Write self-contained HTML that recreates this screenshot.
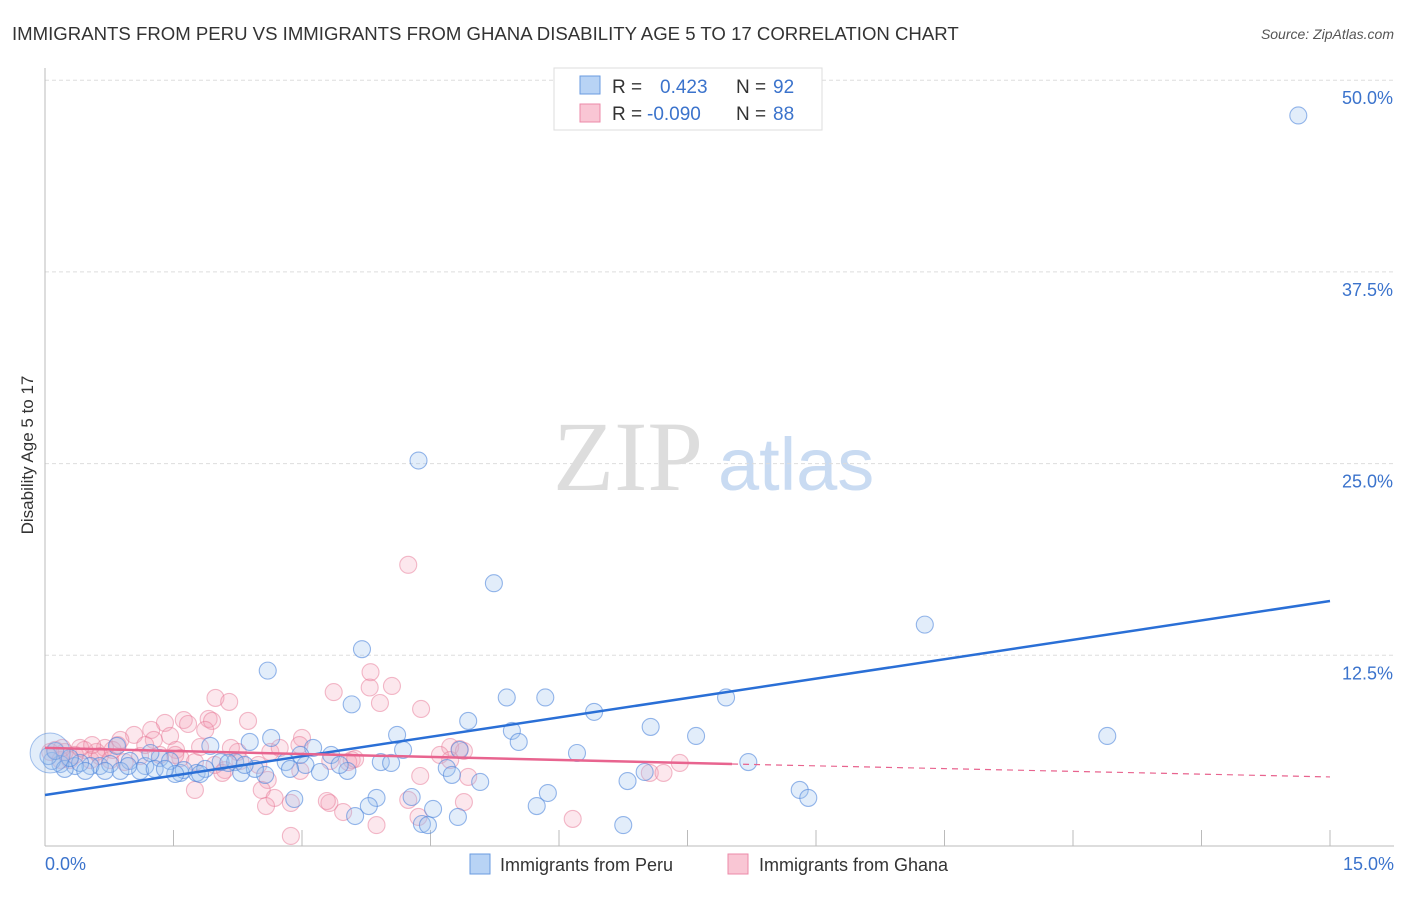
<!DOCTYPE html>
<html><head><meta charset="utf-8"><style>
body{margin:0;background:#fff;font-family:"Liberation Sans",sans-serif}
</style></head><body>
<svg id="chart" width="1406" height="892" font-family="Liberation Sans, sans-serif">
<text x="12" y="40" font-size="18.6" fill="#333">IMMIGRANTS FROM PERU VS IMMIGRANTS FROM GHANA DISABILITY AGE 5 TO 17 CORRELATION CHART</text>
<text x="1394" y="39" font-size="14" fill="#555" font-style="italic" text-anchor="end">Source: ZipAtlas.com</text>
<text x="553" y="490" font-size="100" fill="#ddd" style="font-family:'Liberation Serif',serif">ZIP</text>
<text x="718" y="490" font-size="74" fill="#c9dbf2">atlas</text>
<text transform="translate(33,455) rotate(-90)" font-size="17" fill="#333" text-anchor="middle">Disability Age 5 to 17</text>
<g id="grid"></g><g id="pts"></g><g id="lines"></g>
<g>
<rect x="554" y="68" width="268" height="62" fill="#fff" stroke="#ddd"/>
<rect x="580" y="76" width="20" height="18" fill="#b8d3f5" stroke="#6a9be0"/>
<rect x="580" y="104" width="20" height="18" fill="#f9c6d4" stroke="#ec8aa8"/>
<text x="612" y="93" font-size="19" fill="#333">R = <tspan x="660" fill="#3b73cc">0.423</tspan><tspan x="736" fill="#333">N = </tspan><tspan x="773" fill="#3b73cc">92</tspan></text>
<text x="612" y="120" font-size="19" fill="#333">R = <tspan x="647" fill="#3b73cc">-0.090</tspan><tspan x="736" fill="#333">N = </tspan><tspan x="773" fill="#3b73cc">88</tspan></text>
</g>
<g>
<rect x="470" y="854" width="20" height="20" fill="#b8d3f5" stroke="#6a9be0"/>
<text x="500" y="871" font-size="18" fill="#333">Immigrants from Peru</text>
<rect x="728" y="854" width="20" height="20" fill="#f9c6d4" stroke="#ec8aa8"/>
<text x="759" y="871" font-size="18" fill="#333">Immigrants from Ghana</text>
</g>
</svg>
<script>
const yTicks=[12.5,25,37.5,50];
const yTickLabels=["12.5%","25.0%","37.5%","50.0%"];
const xTickCount=10;
const peruX=[14.63,4.36,5.24,10.27,3.70,2.60,5.39,5.84,7.95,3.58,6.41,4.94,7.07,5.45,12.40,7.60,4.11,5.53,2.39,2.64,4.18,4.84,6.21,3.34,8.21,3.13,1.93,3.92,4.04,4.69,2.81,3.04,2.05,2.22,1.58,1.77,1.62,2.29,3.21,3.53,2.57,2.14,4.75,5.08,6.80,7.00,8.81,8.91,2.91,3.87,4.28,3.78,5.87,5.74,4.53,4.82,3.62,4.40,4.47,6.75,0.84,0.99,1.17,1.34,1.46,0.64,0.76,0.53,0.35,0.18,0.08,0.04,0.23,0.41,1.11,1.23,0.88,1.87,2.45,2.86,1.81,2.33,3.44,1.52,0.12,0.29,0.47,0.70,0.97,1.28,1.40,2.98];
const peruY=[47.7,25.2,17.2,14.5,12.9,11.5,9.75,9.75,9.75,9.3,8.81,8.22,7.83,7.57,7.24,7.24,7.31,6.85,6.85,7.11,6.33,6.33,6.13,6.0,5.54,6.46,6.59,5.54,5.48,5.15,5.54,5.35,5.54,5.54,4.83,4.83,5.02,4.83,4.89,4.96,4.7,5.48,4.7,4.24,4.3,4.89,3.72,3.2,3.13,3.2,3.26,2.67,3.52,2.67,2.48,1.96,2.02,1.5,1.43,1.43,6.59,5.61,5.28,5.8,5.61,5.28,5.41,5.28,5.28,5.41,5.61,5.93,5.09,5.48,4.96,6.13,4.96,5.09,5.09,5.09,4.76,5.35,5.35,4.76,6.26,5.8,4.96,4.96,5.28,5.09,5.09,6.0];
const ghanaX=[4.24,3.80,4.05,3.37,3.79,3.91,4.39,1.99,2.15,2.37,1.62,1.91,1.40,1.95,1.24,1.46,1.04,1.87,1.67,2.63,3.00,2.74,2.97,3.58,3.54,4.73,4.89,2.25,2.17,1.53,1.27,0.85,0.70,0.60,0.46,0.35,0.23,0.12,0.06,0.18,0.29,0.53,0.64,0.76,0.93,1.11,1.34,1.58,1.75,1.98,2.10,2.49,2.60,2.07,1.75,2.53,2.68,2.58,2.87,3.32,3.29,4.24,4.36,3.48,3.87,2.87,4.89,4.94,4.38,7.06,7.22,7.41,6.16,4.61,4.73,0.79,1.17,0.41,1.81,2.28,2.98,3.33,3.62,4.84,0.88,0.20,0.55,1.52];
const ghanaY=[18.4,11.4,10.5,10.1,10.4,9.39,9.0,9.72,9.46,8.22,8.28,8.35,8.09,8.22,7.63,7.24,7.31,7.63,8.02,6.2,7.11,6.46,6.65,5.67,5.54,6.52,6.26,6.2,6.46,6.33,6.98,6.65,6.46,6.2,6.33,6.0,6.2,6.33,6.2,5.67,5.67,5.67,5.93,5.67,5.54,5.93,6.0,5.8,5.54,5.35,5.02,5.35,4.37,4.83,3.72,3.72,3.2,2.67,2.87,2.87,3.0,3.07,1.96,2.28,1.43,0.72,2.93,4.57,4.63,4.83,4.83,5.48,1.83,6.0,5.67,6.33,6.65,6.46,6.52,5.61,4.96,5.61,5.74,6.39,6.98,6.46,6.65,6.0];
const X0=45,X1=1330,Y0=847,PX_PER=191.7/12.5;
const sx=v=>X0+(v/15)*(X1-X0);
const sy=v=>Y0-v*PX_PER;
const NS="http://www.w3.org/2000/svg";
function mk(tag,attrs,parent){const e=document.createElementNS(NS,tag);for(const k in attrs)e.setAttribute(k,attrs[k]);parent.appendChild(e);return e;}
const grid=document.getElementById('grid');
yTicks.forEach((t,i)=>{
 const l=mk('line',{x1:45,x2:1394,y1:sy(t),y2:sy(t),stroke:'#ddd','stroke-dasharray':'4,3'},grid);
 
 
 const tx=mk('text',{x:1393,y:sy(t)+24,'font-size':18,fill:'#3b73cc','text-anchor':'end'},grid);
 tx.textContent=yTickLabels[i];
 
 
});
const ya=mk('line',{x1:45,x2:45,y1:68,y2:846,stroke:'#bbb'},grid);


const xa=mk('line',{x1:45,x2:1394,y1:846,y2:846,stroke:'#bbb'},grid);


for(let i=1;i<=xTickCount;i++){const v=i*15/xTickCount;const t=mk('line',{x1:sx(v),x2:sx(v),y1:830,y2:846,stroke:'#bbb'},grid);
 
 }
const xl0=mk('text',{x:45,y:870,'font-size':18,fill:'#3b73cc'},grid);xl0.textContent="0.0%";


const xl1=mk('text',{x:1394,y:870,'font-size':18,fill:'#3b73cc','text-anchor':'end'},grid);xl1.textContent="15.0%";


const pts=document.getElementById('pts');
ghanaX.forEach((x,i)=>{const c=mk('circle',{cx:sx(x),cy:sy(ghanaY[i]),r:8.5,fill:'rgba(244,160,185,0.25)',stroke:'rgba(232,120,150,0.5)','stroke-width':1.1},pts);
 
 });
peruX.forEach((x,i)=>{const c=mk('circle',{cx:sx(x),cy:sy(peruY[i]),r:8.5,fill:'rgba(160,195,240,0.3)',stroke:'rgba(80,135,220,0.6)','stroke-width':1.1},pts);
 
 });
const big=mk('circle',{cx:sx(0.06),cy:sy(6.13),r:20,fill:'rgba(160,195,240,0.3)',stroke:'rgba(80,135,220,0.5)'},pts);


const lines=document.getElementById('lines');
const bl=mk('line',{x1:sx(0),y1:sy(3.39),x2:sx(15),y2:sy(16.04),stroke:'#2a6fd6','stroke-width':2.5},lines);


const pl=mk('line',{x1:sx(0),y1:sy(6.46),x2:sx(8.02),y2:sy(5.41),stroke:'#e8648f','stroke-width':2.5},lines);


const pd=mk('line',{x1:sx(8.02),y1:sy(5.41),x2:sx(15),y2:sy(4.57),stroke:'#e8648f','stroke-width':1.2,'stroke-dasharray':'6,5'},lines);


</script>
</body></html>
